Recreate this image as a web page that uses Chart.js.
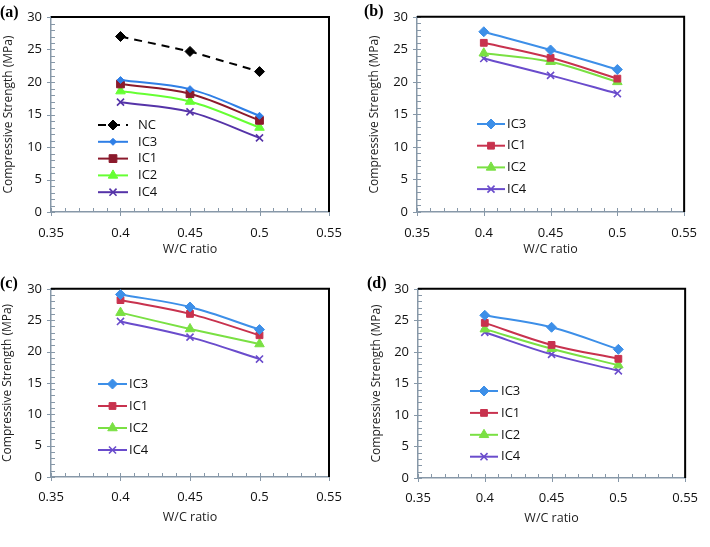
<!DOCTYPE html>
<html lang="en">
<head>
  <meta charset="UTF-8">
  <title>Compressive strength vs W/C ratio</title>
  <script src="https://cdn.jsdelivr.net/npm/chart.js"></script>
  <style>
    body { margin: 0; background: #fff; }
    #wrap { position: relative; width: 710px; height: 547px; }
    .panel { position: absolute; }
    .tag { position: absolute; font: bold 16px "Liberation Serif", "Times New Roman", serif; line-height: 16px; }
  </style>
</head>
<body>
  <div id="wrap">
    <canvas id="chartA" class="panel" width="355" height="272" style="left:0;top:0"></canvas>
    <canvas id="chartB" class="panel" width="355" height="272" style="left:355px;top:0"></canvas>
    <canvas id="chartC" class="panel" width="355" height="275" style="left:0;top:272px"></canvas>
    <canvas id="chartD" class="panel" width="355" height="275" style="left:355px;top:272px"></canvas>
    <div class="tag" style="left:0;top:4px">(a)</div>
    <div class="tag" style="left:364px;top:3px">(b)</div>
    <div class="tag" style="left:0;top:275px">(c)</div>
    <div class="tag" style="left:367px;top:275px">(d)</div>
  </div>

  <script>
    // W/C ratio on the x axis
    const wcRatio = [0.4, 0.45, 0.5];

    // (a)
    const ncA  = [27.0, 24.7, 21.6];
    const ic3A = [20.3, 18.9, 14.8];
    const ic1A = [19.7, 18.2, 14.1];
    const ic2A = [18.6, 17.0, 13.0];
    const ic4A = [16.9, 15.4, 11.4];
    // (b)
    const ic3B = [27.7, 24.9, 21.9];
    const ic1B = [26.0, 23.7, 20.5];
    const ic2B = [24.4, 23.1, 20.0];
    const ic4B = [23.6, 21.0, 18.2];
    // (c)
    const ic3C = [29.1, 27.1, 23.5];
    const ic1C = [28.2, 26.0, 22.6];
    const ic2C = [26.2, 23.6, 21.2];
    const ic4C = [24.8, 22.3, 18.8];
    // (d)
    const ic3D = [25.8, 23.9, 20.4];
    const ic1D = [24.6, 21.1, 18.9];
    const ic2D = [23.6, 20.5, 17.9];
    const ic4D = [23.1, 19.6, 17.0];

    const FONT = "'Open Sans', sans-serif";
    const axisGrey = '#8798a8';

    function series(label, vals, color, style, radius, extra) {
      return Object.assign({
        label: label,
        data: wcRatio.map((x, i) => ({ x: x, y: vals[i] })),
        borderColor: color,
        backgroundColor: color,
        pointBackgroundColor: color,
        pointBorderColor: color,
        pointStyle: style,
        pointRadius: radius,
        pointBorderWidth: style === 'crossRot' ? 1.6 : 1,
        borderWidth: 2,
        tension: 0.35
      }, extra || {});
    }

    // minor/major ticks and black top/right frame
    const axisDecor = {
      id: 'axisDecor',
      beforeDatasetsDraw(chart) {
        const { ctx, chartArea: a, scales: { x, y } } = chart;
        ctx.save();
        ctx.strokeStyle = axisGrey;
        ctx.lineWidth = 1;
        for (let v = 0; v <= 30; v++) {
          const py = Math.round(y.getPixelForValue(v)) + 0.5;
          const major = v % 5 === 0;
          ctx.beginPath();
          ctx.moveTo(a.left - (major ? 4 : 0), py);
          ctx.lineTo(a.left + 4, py);
          ctx.stroke();
        }
        for (let i = 0; i <= 20; i++) {
          const px = Math.round(x.getPixelForValue(0.35 + i * 0.01)) + 0.5;
          const major = i % 5 === 0;
          ctx.beginPath();
          ctx.moveTo(px, a.bottom + (major ? 4 : 0));
          ctx.lineTo(px, a.bottom - 4);
          ctx.stroke();
        }
        ctx.strokeStyle = '#000';
        ctx.lineWidth = 2;
        ctx.beginPath();
        ctx.moveTo(a.left, a.top);
        ctx.lineTo(a.right, a.top);
        ctx.lineTo(a.right, a.bottom);
        ctx.stroke();
        ctx.restore();
      }
    };

    // legend drawn inside the plot
    const insetLegend = {
      id: 'insetLegend',
      afterDraw(chart) {
        const o = chart.options.plugins.insetLegend;
        const ctx = chart.ctx;
        ctx.save();
        ctx.font = '13px ' + FONT;
        ctx.textBaseline = 'middle';
        chart.data.datasets.forEach((ds, i) => {
          const ly = o.y + i * o.step;
          ctx.strokeStyle = ds.borderColor;
          ctx.fillStyle = ds.borderColor;
          ctx.lineWidth = ds.borderWidth;
          ctx.setLineDash(ds.borderDash || []);
          ctx.beginPath();
          ctx.moveTo(o.x1, ly);
          ctx.lineTo(o.x2, ly);
          ctx.stroke();
          ctx.setLineDash([]);
          ctx.lineWidth = ds.pointBorderWidth;
          Chart.helpers.drawPoint(ctx, {
            pointStyle: ds.pointStyle, radius: ds.pointRadius, rotation: 0, borderWidth: ds.pointBorderWidth
          }, (o.x1 + o.x2) / 2, ly);
          ctx.fillStyle = '#111';
          ctx.fillText(ds.label, o.tx, ly);
        });
        ctx.restore();
      }
    };

    // box: chart-area edges, axis title positions (relative to the canvas)
    function makePanel(id, datasets, box, legend) {
      const canvas = document.getElementById(id);
      const H = canvas.height;
      new Chart(canvas, {
        type: 'line',
        data: { datasets: datasets },
        plugins: [axisDecor, insetLegend],
        options: {
          responsive: false,
          animation: false,
          layout: { padding: { left: 0, right: canvas.width - box.right, top: box.top, bottom: 0 } },
          plugins: {
            legend: { display: false },
            tooltip: { enabled: false },
            insetLegend: legend
          },
          scales: {
            x: {
              type: 'linear',
              min: 0.35, max: 0.55,
              grid: { display: false, drawTicks: false },
              border: { display: true, color: axisGrey, width: 1.5 },
              ticks: {
                stepSize: 0.05, padding: box.xTickPad, color: '#111',
                font: { family: FONT, size: 13 },
                callback: v => String(+v.toFixed(2))
              },
              title: {
                display: true, text: 'W/C ratio', color: '#222',
                font: { family: FONT, size: 12.5 },
                padding: { top: 0, bottom: H - box.xTitle - 7.5 }
              },
              afterFit: s => { s.height = H - box.bottom; }
            },
            y: {
              min: 0, max: 30,
              grid: { display: false, drawTicks: false },
              border: { display: true, color: axisGrey, width: 1.5 },
              ticks: {
                stepSize: 5, padding: 9, color: '#111',
                font: { family: FONT, size: 13 }
              },
              title: {
                display: true, text: 'Compressive Strength (MPa)', color: '#222',
                font: { family: FONT, size: 12 },
                padding: { top: box.yTitle - 7.2, bottom: 0 }
              },
              afterFit: s => { s.width = box.left; }
            }
          }
        }
      });
    }

    const colA = { ic3: '#2f7fe6', ic1: '#8b1a2c', ic2: '#66ff33', ic4: '#5533a8' };
    const col = { ic3: '#3d8fe8', ic1: '#c8324e', ic2: '#7ae043', ic4: '#6a4ccc' };

    makePanel('chartA', [
      series('NC', ncA, '#000', 'rectRot', 5, { borderDash: [8, 6], tension: 0 }),
      series('IC3', ic3A, colA.ic3, 'rectRot', 3.5),
      series('IC1', ic1A, colA.ic1, 'rect', 5.5),
      series('IC2', ic2A, colA.ic2, 'triangle', 5.5),
      series('IC4', ic4A, colA.ic4, 'crossRot', 5)
    ], { left: 51, right: 329, top: 17, bottom: 212, xTickPad: 13, xTitle: 249, yTitle: 9 },
       { x1: 98, x2: 128, tx: 138, y: 125, step: 16.8 });

    makePanel('chartB', [
      series('IC3', ic3B, col.ic3, 'rectRot', 5),
      series('IC1', ic1B, col.ic1, 'rect', 4.8),
      series('IC2', ic2B, col.ic2, 'triangle', 5.5),
      series('IC4', ic4B, col.ic4, 'crossRot', 5)
    ], { left: 62, right: 342, top: 15, bottom: 212, xTickPad: 13, xTitle: 249, yTitle: 20 },
       { x1: 122, x2: 150, tx: 152, y: 124, step: 21.7 });

    makePanel('chartC', [
      series('IC3', ic3C, col.ic3, 'rectRot', 5),
      series('IC1', ic1C, col.ic1, 'rect', 4.8),
      series('IC2', ic2C, col.ic2, 'triangle', 5.5),
      series('IC4', ic4C, col.ic4, 'crossRot', 5)
    ], { left: 51, right: 329, top: 14, bottom: 205, xTickPad: 12, xTitle: 245, yTitle: 8 },
       { x1: 98, x2: 127, tx: 129, y: 112, step: 22 });

    makePanel('chartD', [
      series('IC3', ic3D, col.ic3, 'rectRot', 5),
      series('IC1', ic1D, col.ic1, 'rect', 4.8),
      series('IC2', ic2D, col.ic2, 'triangle', 5.5),
      series('IC4', ic4D, col.ic4, 'crossRot', 5)
    ], { left: 63, right: 342, top: 14, bottom: 206, xTickPad: 12, xTitle: 246, yTitle: 21.7 },
       { x1: 115, x2: 143, tx: 146, y: 119, step: 21.9 });
  </script>
</body>
</html>
